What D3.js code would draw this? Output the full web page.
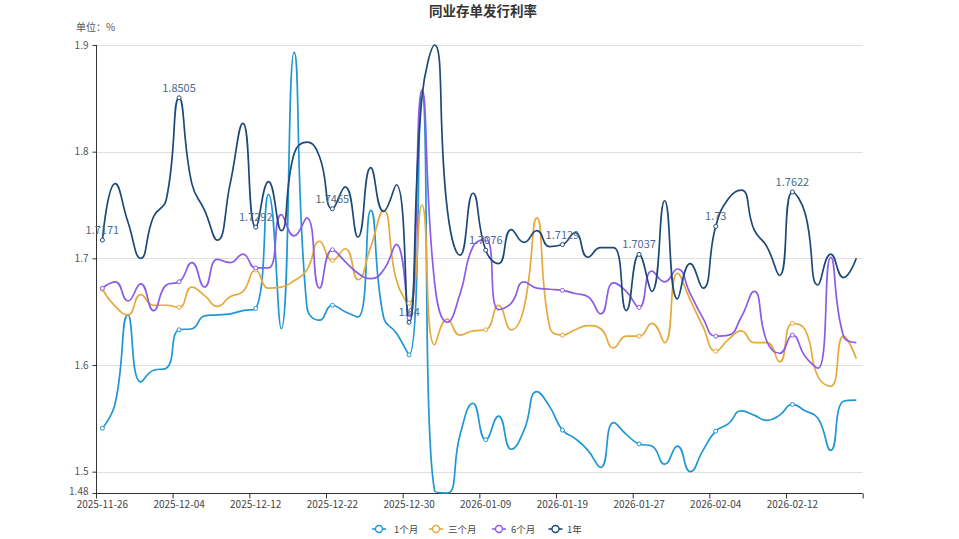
<!DOCTYPE html>
<html><head><meta charset="utf-8">
<script src="https://cdn.jsdelivr.net/npm/d3@7"></script>
<style>body{margin:0;background:#fff} svg{display:block} text{font-family:"Noto Sans CJK SC","Noto Sans",sans-serif}</style>
</head><body>
<svg id="c" width="959" height="539"></svg>
<script>
const dates = ["2025-11-26","2025-11-27","2025-11-28","2025-12-01","2025-12-02","2025-12-03","2025-12-04","2025-12-05","2025-12-08","2025-12-09","2025-12-10","2025-12-11","2025-12-12","2025-12-15","2025-12-16","2025-12-17","2025-12-18","2025-12-19","2025-12-22","2025-12-23","2025-12-24","2025-12-25","2025-12-26","2025-12-29","2025-12-30","2025-12-31","2026-01-05","2026-01-06","2026-01-07","2026-01-08","2026-01-09","2026-01-12","2026-01-13","2026-01-14","2026-01-15","2026-01-16","2026-01-19","2026-01-20","2026-01-21","2026-01-22","2026-01-23","2026-01-26","2026-01-27","2026-01-28","2026-01-29","2026-01-30","2026-02-02","2026-02-03","2026-02-04","2026-02-05","2026-02-06","2026-02-09","2026-02-10","2026-02-11","2026-02-12","2026-02-13","2026-02-14","2026-02-24","2026-02-25","2026-02-26"];
const seriesNames = ["1个月","三个月","6个月","1年"];
const m1 = [1.5407,1.564,1.647,1.584,1.595,1.597,1.633,1.634,1.646,1.647,1.648,1.651,1.653,1.760,1.634,1.893,1.655,1.642,1.656,1.650,1.645,1.745,1.645,1.630,1.6095,1.856,1.482,1.480,1.535,1.564,1.530,1.552,1.521,1.539,1.575,1.561,1.539,1.531,1.520,1.504,1.546,1.535,1.526,1.524,1.507,1.524,1.500,1.520,1.538,1.545,1.557,1.553,1.548,1.553,1.563,1.557,1.550,1.520,1.566,1.567];
const m3 = [1.671,1.655,1.647,1.666,1.656,1.656,1.654,1.673,1.665,1.655,1.664,1.669,1.689,1.672,1.673,1.679,1.689,1.716,1.698,1.709,1.680,1.711,1.745,1.680,1.658,1.750,1.619,1.643,1.628,1.632,1.633,1.656,1.633,1.654,1.738,1.636,1.628,1.633,1.637,1.634,1.616,1.627,1.627,1.639,1.621,1.686,1.661,1.636,1.613,1.624,1.632,1.621,1.621,1.603,1.639,1.633,1.589,1.580,1.627,1.606];
const m6 = [1.672,1.678,1.660,1.676,1.651,1.675,1.678,1.696,1.673,1.699,1.696,1.704,1.691,1.691,1.741,1.721,1.738,1.672,1.708,1.697,1.686,1.681,1.689,1.713,1.644,1.858,1.677,1.640,1.667,1.711,1.718,1.652,1.658,1.678,1.672,1.671,1.670,1.667,1.664,1.648,1.677,1.669,1.654,1.688,1.678,1.690,1.667,1.644,1.627,1.628,1.645,1.669,1.622,1.611,1.628,1.608,1.597,1.701,1.627,1.621];
const y1 = [1.7171,1.770,1.734,1.700,1.739,1.755,1.8505,1.770,1.745,1.717,1.770,1.8266,1.7292,1.772,1.726,1.798,1.809,1.795,1.7465,1.767,1.720,1.785,1.744,1.769,1.64,1.85,1.90,1.745,1.703,1.761,1.7076,1.695,1.727,1.715,1.726,1.711,1.7129,1.724,1.701,1.710,1.710,1.651,1.7037,1.669,1.754,1.662,1.695,1.672,1.73,1.756,1.764,1.727,1.711,1.684,1.7622,1.742,1.675,1.704,1.682,1.700];
const yTickValues = [1.48,1.5,1.6,1.7,1.8,1.9];
const yGridValues = [1.5,1.6,1.7,1.8,1.9];
const labelStep = 6;

const colors = ["#1f97d2","#e6a93c","#8b5ce6","#1d4976"];
const allSeries = [m1,m3,m6,y1];

const svg = d3.select("#c");
const L = 96, R = 862.7, T = 45, B = 493;
const x = d3.scaleBand().domain(dates).range([L,R]).padding(0);
const xi = d3.scaleLinear().domain([0,dates.length]).range([L,R]);
const y = d3.scaleLinear().domain([d3.min(allSeries.flat()), d3.max(allSeries.flat())]).range([B,T]);
const cx = d => x(d) + x.bandwidth()/2;

// title
svg.append("text").attr("x",483).attr("y",16).attr("text-anchor","middle")
  .attr("font-size",13.5).attr("font-weight","bold").attr("fill","#333").text("同业存单发行利率");
svg.append("text").attr("x",76).attr("y",31).attr("font-size",10).attr("fill","#555").text("单位：%");

// grid
svg.append("g").selectAll("line").data(yGridValues).join("line")
  .attr("x1",L).attr("x2",R).attr("y1",d=>Math.round(y(d))+0.5).attr("y2",d=>Math.round(y(d))+0.5)
  .attr("stroke","#e0e0e0").attr("stroke-width",1);

// y axis
const ya = svg.append("g").attr("transform",`translate(${L+0.5},0)`)
  .call(d3.axisLeft(y).tickValues(yTickValues).tickSize(4).tickPadding(4).tickFormat(d=>String(d)));
ya.select(".domain").attr("stroke","#333").attr("d",`M0,${T}V${B}`);
ya.selectAll(".tick line").attr("stroke","#333");
ya.selectAll(".tick text").attr("font-size",10).attr("fill","#555").attr("font-family",'"Noto Sans CJK SC",sans-serif')
  .attr("dy",d=>d===1.48?"0.1em":"0.32em");

// x axis ticks
const tickIdx = d3.range(0,dates.length+1,labelStep);
const xa = svg.append("g").attr("transform",`translate(0,${B+0.5})`)
  .call(d3.axisBottom(xi).tickValues(tickIdx).tickSize(5).tickFormat(""));
xa.select(".domain").attr("stroke","#333").attr("d",`M${L},0H${R}`);
xa.selectAll(".tick line").attr("stroke","#333");
const xl = svg.append("g").attr("transform",`translate(0,${B+0.5})`)
  .call(d3.axisBottom(x).tickValues(dates.filter((d,i)=>i%labelStep===0)).tickSize(0).tickPadding(7));
xl.select(".domain").remove();
xl.selectAll(".tick text").attr("font-size",10).attr("fill","#444").attr("font-family",'"Noto Sans CJK SC",sans-serif');

// ECharts-like smooth curve
function curveECharts(context){
  return {
    areaStart(){}, areaEnd(){},
    lineStart(){ this._p = []; },
    point(px,py){ this._p.push([+px,+py]); },
    lineEnd(){
      const pts = this._p, smooth = 0.5;
      let prevX, prevY, cpx0, cpy0;
      for(let k=0;k<pts.length;k++){
        const X = pts[k][0], Y = pts[k][1];
        if(k===0){ context.moveTo(X,Y); cpx0=X; cpy0=Y; }
        else{
          let cpx1, cpy1, ncx=X, ncy=Y;
          if(k===pts.length-1){ cpx1=X; cpy1=Y; }
          else{
            const nX=pts[k+1][0], nY=pts[k+1][1];
            let vx=nX-prevX, vy=nY-prevY;
            const lp=Math.hypot(X-prevX,Y-prevY), ln=Math.hypot(nX-X,nY-Y);
            const r = ln/(ln+lp);
            ncx = X+vx*smooth*r; ncy = Y+vy*smooth*r;
            ncx=Math.min(ncx,Math.max(nX,X)); ncy=Math.min(ncy,Math.max(nY,Y));
            ncx=Math.max(ncx,Math.min(nX,X)); ncy=Math.max(ncy,Math.min(nY,Y));
            vx=ncx-X; vy=ncy-Y;
            cpx1=X-vx*lp/ln; cpy1=Y-vy*lp/ln;
            cpx1=Math.min(cpx1,Math.max(prevX,X)); cpy1=Math.min(cpy1,Math.max(prevY,Y));
            cpx1=Math.max(cpx1,Math.min(prevX,X)); cpy1=Math.max(cpy1,Math.min(prevY,Y));
            vx=X-cpx1; vy=Y-cpy1;
            ncx=X+vx*ln/lp; ncy=Y+vy*ln/lp;
          }
          context.bezierCurveTo(cpx0,cpy0,cpx1,cpy1,X,Y);
          cpx0=ncx; cpy0=ncy;
        }
        prevX=X; prevY=Y;
      }
    }
  };
}

svg.append("clipPath").attr("id","clip").append("rect").attr("x",L).attr("y",T-2).attr("width",R-L+2).attr("height",B-T+3);
const line = d3.line().x((v,i)=>cx(dates[i])).y(v=>y(v)).curve(curveECharts);
const plot = svg.append("g").attr("clip-path","url(#clip)");
allSeries.forEach((s,k)=>{
  plot.append("path").attr("d",line(s)).attr("fill","none").attr("stroke",colors[k]).attr("stroke-width",1.7).attr("stroke-linejoin","round");
});
allSeries.forEach((s,k)=>{
  const idx = d3.range(0,s.length,labelStep);
  svg.append("g").selectAll("circle").data(idx).join("circle")
    .attr("cx",i=>cx(dates[i])).attr("cy",i=>y(s[i])).attr("r",2)
    .attr("fill","#fff").attr("stroke",colors[k]).attr("stroke-width",1);
});
// labels on 1年
const li = d3.range(0,y1.length,labelStep);
svg.append("g").selectAll("text").data(li).join("text")
  .attr("x",i=>cx(dates[i])).attr("y",i=>y(y1[i])-6).attr("text-anchor","middle")
  .attr("font-size",11).attr("fill","#4a6a8e").text(i=>String(y1[i]));

// legend
const lgIcon = [379,436,499,555.5], lgText = [394,448,511,567];
const lg = svg.append("g");
seriesNames.forEach((n,k)=>{
  lg.append("line").attr("x1",lgIcon[k]-7).attr("x2",lgIcon[k]+7).attr("y1",529).attr("y2",529).attr("stroke",colors[k]).attr("stroke-width",1.6);
  lg.append("circle").attr("cx",lgIcon[k]).attr("cy",529).attr("r",3.5).attr("fill","#fff").attr("stroke",colors[k]).attr("stroke-width",1.4);
  lg.append("text").attr("x",lgText[k]).attr("y",532.5).attr("font-size",9.5).attr("fill","#444").text(n);
});
</script>
</body></html>
